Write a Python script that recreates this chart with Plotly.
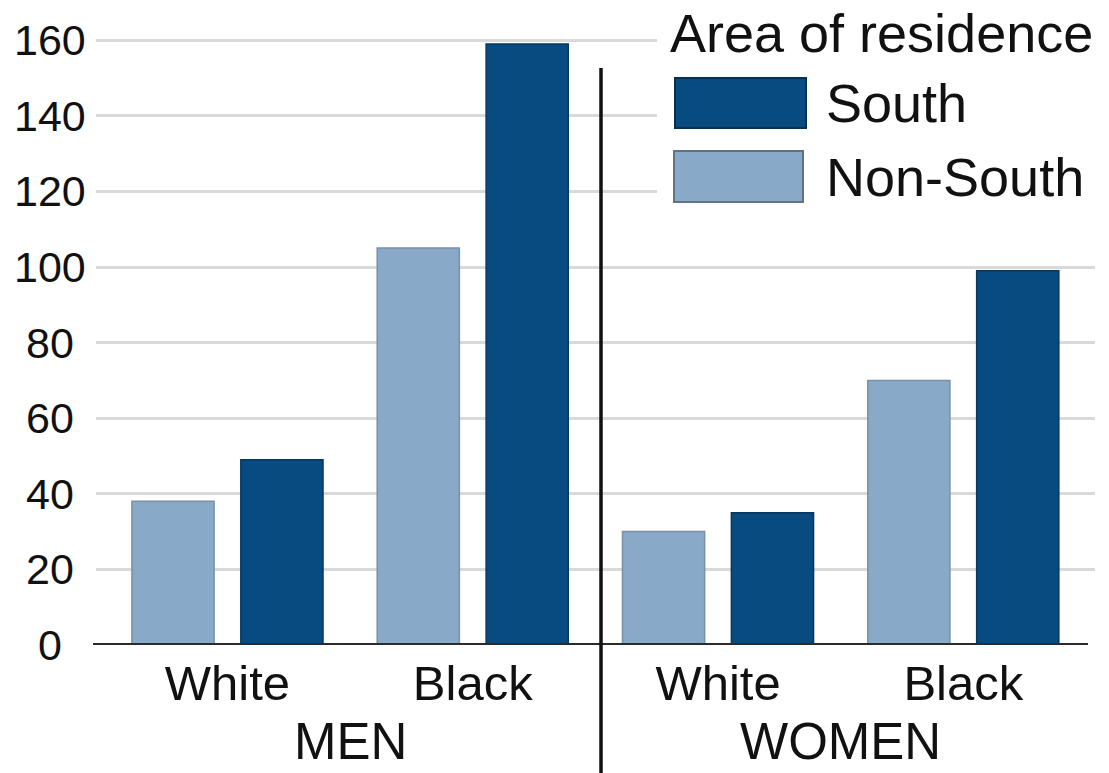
import plotly.graph_objects as go

# Data: rates by sex, race and area of residence
sexes = ["MEN", "MEN", "WOMEN", "WOMEN"]
races = ["White", "Black", "White", "Black"]
non_south = [38, 105, 30, 70]
south = [49, 159, 35, 99]
y_ticks = [0, 20, 40, 60, 80, 100, 120, 140, 160]
legend_title = "Area of residence"
series_names = ["South", "Non-South"]

SOUTH_COLOR = "#084b80"
SOUTH_EDGE = "#06385f"
NONSOUTH_COLOR = "#88aac8"
NONSOUTH_EDGE = "#7a90a5"
TEXT = "#111111"
FONT = "Liberation Sans, Arial, Helvetica, sans-serif"

W, H = 1109, 773
L, R, T, B = 96, 14, 0, 128
PW, PH = W - L - R, H - T - B


def px_x(px):
    return (px - L) / PW


def px_y(py):
    return (H - B - py) / PH


positions = list(range(len(races)))
bar_w = 0.335
shift = 0.222

fig = go.Figure()
fig.add_trace(go.Bar(
    x=positions, y=non_south, name=series_names[1],
    width=bar_w, offset=-shift - bar_w / 2,
    marker=dict(color=NONSOUTH_COLOR, line=dict(color=NONSOUTH_EDGE, width=1.5)),
    showlegend=False,
))
fig.add_trace(go.Bar(
    x=positions, y=south, name=series_names[0],
    width=bar_w, offset=shift - bar_w / 2,
    marker=dict(color=SOUTH_COLOR, line=dict(color=SOUTH_EDGE, width=1.5)),
    showlegend=False,
))

shapes = [
    # white backing behind the legend block
    dict(type="rect", xref="paper", yref="paper", layer="above",
         x0=px_x(657), x1=px_x(1109), y0=px_y(208), y1=px_y(0),
         fillcolor="white", line=dict(width=0)),
    # baseline
    dict(type="line", xref="paper", yref="y", layer="above",
         x0=px_x(93), x1=px_x(1088), y0=0, y1=0,
         line=dict(color="#2b2b2b", width=4)),
    # divider between MEN and WOMEN
    dict(type="line", xref="paper", yref="paper", layer="above",
         x0=px_x(601), x1=px_x(601), y0=px_y(773), y1=px_y(68),
         line=dict(color="#111111", width=3.5)),
    # legend swatches
    dict(type="rect", xref="paper", yref="paper", layer="above",
         x0=px_x(675), x1=px_x(806), y0=px_y(128), y1=px_y(78),
         fillcolor=SOUTH_COLOR, line=dict(color="#05314f", width=2)),
    dict(type="rect", xref="paper", yref="paper", layer="above",
         x0=px_x(674), x1=px_x(803), y0=px_y(202), y1=px_y(151),
         fillcolor=NONSOUTH_COLOR, line=dict(color="#5f7286", width=2)),
]

annotations = []
# y tick labels, centred in the left margin
for v in y_ticks:
    annotations.append(dict(
        x=px_x(50), xref="paper", y=v, yref="y", text=str(v),
        showarrow=False, xanchor="center", yanchor="middle",
        font=dict(family=FONT, size=43, color=TEXT)))

# group labels under each pair of race categories
groups = []
for i, s in enumerate(sexes):
    if not groups or groups[-1][0] != s:
        groups.append([s, []])
    groups[-1][1].append(positions[i])
for s, idx in groups:
    annotations.append(dict(
        x=sum(idx) / len(idx), xref="x", y=px_y(772), yref="paper", text=s,
        showarrow=False, xanchor="center", yanchor="bottom",
        font=dict(family=FONT, size=51, color=TEXT)))

# legend text
annotations.append(dict(
    x=px_x(668), xref="paper", y=px_y(33), yref="paper", text=legend_title,
    showarrow=False, xanchor="left", yanchor="middle",
    font=dict(family=FONT, size=54, color=TEXT)))
annotations.append(dict(
    x=px_x(824), xref="paper", y=px_y(103), yref="paper", text=series_names[0],
    showarrow=False, xanchor="left", yanchor="middle",
    font=dict(family=FONT, size=54, color=TEXT)))
annotations.append(dict(
    x=px_x(824), xref="paper", y=px_y(177), yref="paper", text=series_names[1],
    showarrow=False, xanchor="left", yanchor="middle",
    font=dict(family=FONT, size=54, color=TEXT)))

fig.update_layout(
    width=W, height=H,
    margin=dict(l=L, r=R, t=T, b=B, pad=0),
    paper_bgcolor="white", plot_bgcolor="white",
    barmode="overlay",
    showlegend=False,
    shapes=shapes,
    annotations=annotations,
    font=dict(family=FONT, color=TEXT),
    xaxis=dict(
        range=[-0.536, 3.537], tickmode="array",
        tickvals=positions, ticktext=races,
        tickfont=dict(family=FONT, size=49, color=TEXT),
        showgrid=False, zeroline=False, showline=False, ticks="",
        ticklabelstandoff=5,
    ),
    yaxis=dict(
        range=[0, PH / 3.78], tickmode="array", tickvals=y_ticks,
        showticklabels=False, showgrid=True, gridcolor="#d9d9d9",
        gridwidth=2.5, zeroline=False, showline=False, ticks="",
    ),
)

fig.write_html("out.html")
